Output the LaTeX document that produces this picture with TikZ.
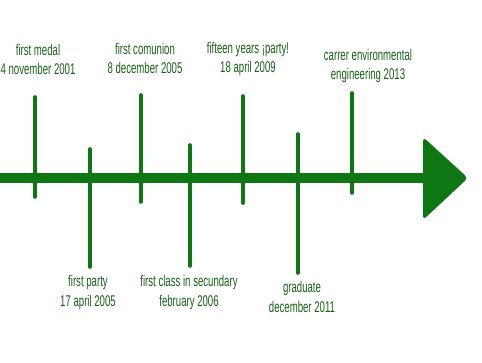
\documentclass[tikz,border=0pt]{standalone}
\usepackage{fontspec}
\setmainfont[FakeStretch=0.62]{Liberation Sans}
\definecolor{tlgreen}{RGB}{14,118,18}
\definecolor{txtgreen}{RGB}{22,96,22}

\begin{document}
\begin{tikzpicture}[x=1pt,y=-1pt,
  tick/.style={draw=tlgreen,line width=3.6pt,line cap=round},
  event/.style={text=txtgreen,align=center,font=\fontsize{15.5}{19.5}\selectfont,inner sep=0pt}]
\useasboundingbox (0,0) rectangle (482,362);
% main line and head
\coordinate (start) at (0,178);
\coordinate (head) at (425,178);
\draw [draw=tlgreen,line width=9.5pt] (start) -- (head);
\fill [tlgreen,rounded corners=4pt] (423,137) -- (468,178) -- (423,220) -- cycle;
% ticks
\foreach \x/\top/\bot [count=\i] in {35/97/197, 90/149/267, 141/95/202, 190/145/266,
                                     243/96/203, 298/134/273, 352/93/193} {
  \coordinate (t\i) at (\x,\top);
  \coordinate (b\i) at (\x,\bot);
  \draw [tick] (t\i) -- (b\i);
}
% labels
\node at ( 38, 59.5) (medal)  [event] {first medal\\4 november 2001};
\node at (145, 58.5) (comun)  [event] {first comunion\\8 december 2005};
\node at (248, 59)   (fifteen)[event] {fifteen years ¡party!\\18 april 2009};
\node at (368, 66)   (carrer) [event] {carrer environmental\\engineering 2013};
\node at ( 88, 292.5)(party)  [event] {first party\\17 april 2005};
\node at (189, 292.5)(class)  [event] {first class in secundary\\february 2006};
\node at (302, 297)  (grad)   [event] {graduate\\december 2011};
\end{tikzpicture}
\end{document}
